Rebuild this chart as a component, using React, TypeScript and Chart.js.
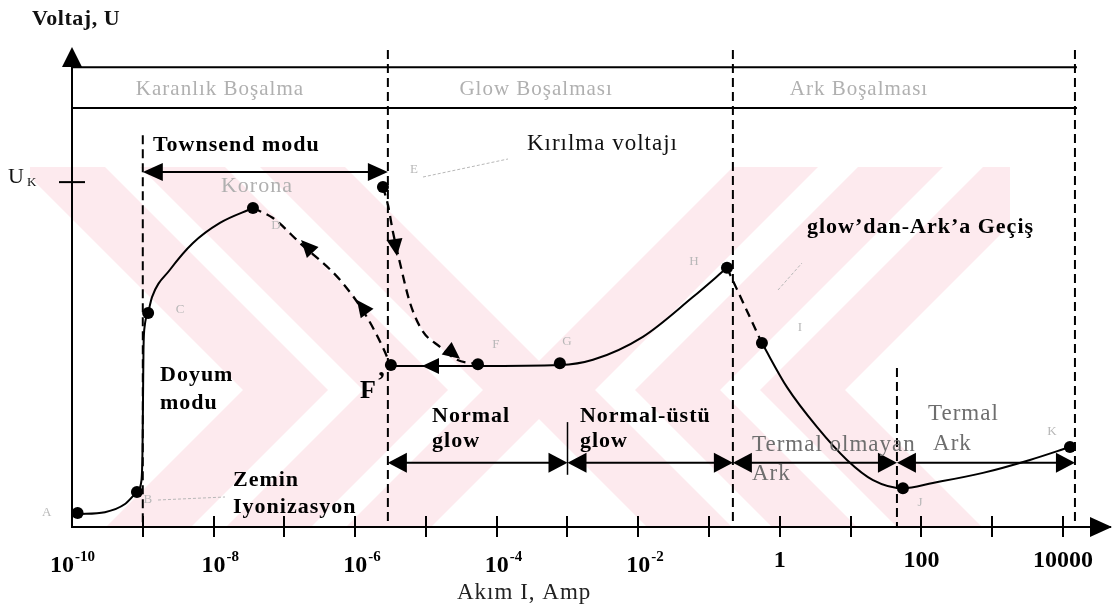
import { useEffect, useRef } from "react";
import { Chart, registerables } from "chart.js";

Chart.register(...registerables);

// ---------- values ----------
// current I in A (log axis), voltage U in arbitrary units (0..100)
const tickValues = [1e-10, 1e-9, 1e-8, 1e-7, 1e-6, 1e-5, 1e-4, 1e-3, 1e-2, 1e-1, 1, 10, 100, 1000, 10000];
const tickBase = ["10", "", "10", "", "10", "", "10", "", "10", "", "1", "", "100", "", "10000"];
const tickExp = ["-10", "", "-8", "", "-6", "", "-4", "", "-2", "", "", "", "", "", ""];

// A - B - C - D (dark discharge, solid)
const darkI = [1.2e-10, 2.92e-10, 5.61e-10, 8.27e-10, 9.59e-10, 9.91e-10, 1.007e-9, 1.023e-9, 1.07e-9, 1.19e-9, 1.35e-9, 2.42e-9, 5.12e-9, 1.23e-8, 3.6e-8];
const darkU = [2.7, 3.1, 4.8, 7.3, 9.8, 16.1, 26.5, 37.0, 42.2, 44.7, 48.0, 53.7, 59.3, 63.5, 66.6];

// D - F' (corona, dashed)
const coronaI = [3.6e-8, 6.9e-8, 1.66e-7, 6.1e-7, 1.47e-6, 2.55e-6, 3.2e-6];
const coronaU = [66.6, 64.5, 59.3, 51.6, 43.8, 37.0, 33.6];

// E - F (breakdown, dashed)
const breakdownI = [2.47e-6, 2.91e-6, 3.42e-6, 4.3e-6, 5.96e-6, 8.8e-6, 1.58e-5, 2.75e-5, 5.43e-5];
const breakdownU = [71.0, 67.2, 61.6, 55.1, 46.8, 41.1, 37.6, 34.9, 34.0];

// F' - F - G - H (glow, solid)
const glowI = [3.2e-6, 5.43e-5, 7.8e-4, 2.29e-3, 1.16e-2, 5.9e-2, 0.179];
const glowU = [33.6, 33.6, 33.8, 34.9, 39.7, 48.0, 54.1];

// H - I (glow-to-arc transition, dashed)
const transitionI = [0.179, 0.558];
const transitionU = [54.1, 38.4];

// I - J - K (arc, solid)
const arcI = [0.558, 1.26, 3.34, 8.87, 20.7, 54.8, 145, 740, 3410, 12530];
const arcU = [38.4, 29.2, 20.9, 14.0, 9.8, 8.1, 9.2, 11.3, 14.0, 16.7];

// marked points
const dotNames = ["A", "B", "C", "D", "E", "", "F", "G", "H", "I", "J", "K"];
const dotI = [1.2e-10, 8.27e-10, 1.19e-9, 3.6e-8, 2.47e-6, 3.2e-6, 5.43e-5, 7.8e-4, 0.179, 0.558, 54.8, 12530];
const dotU = [2.9, 7.3, 44.7, 66.6, 71.0, 33.8, 34.0, 34.2, 54.1, 38.4, 8.1, 16.7];

// direction arrows on the curves (tip and a point behind it)
const arrowTipI = [1.72e-7, 1.06e-6, 3.9e-6, 3.03e-5, 8.8e-6];
const arrowTipU = [59.9, 47.4, 56.6, 35.1, 33.6];
const arrowTailI = [2.8e-7, 1.73e-6, 3.31e-6, 1.58e-5, 1.74e-5];
const arrowTailU = [56.6, 43.2, 63.7, 38.4, 33.6];

// discharge regions (header band)
const regionEdges = [1e-10, 2.9e-6, 0.217, 14750];
const regionNames = ["Karanlık Boşalma", "Glow Boşalması", "Ark Boşalması"];
const regionLabelI = [1.23e-8, 3.6e-4, 13.1];

// operating modes (lower double arrows)
const modeEdges = [2.9e-6, 1e-3, 0.217, 45.1, 14750];
const townsendRange = [1e-9, 2.9e-6];
const thermalArcEdge = 45.1;
const U_K = 72;

const SERIF = '"Liberation Serif", "Times New Roman", serif';

type Note = { t: string; i: number; u: number; font: string; color: string; align?: CanvasTextAlign; sp?: string };
const notes: Note[] = [
  { t: "Townsend modu", i: 1.39e-9, u: 78.5, font: `bold 22px ${SERIF}`, color: "#000" },
  { t: "Kırılma voltajı", i: 2.67e-4, u: 78.7, font: `23px ${SERIF}`, color: "#111" },
  { t: "glow’dan-Ark’a Geçiş", i: 2.41, u: 61.4, font: `bold 22px ${SERIF}`, color: "#000" },
  { t: "Doyum", i: 1.75e-9, u: 30.5, font: `bold 22px ${SERIF}`, color: "#000" },
  { t: "modu", i: 1.75e-9, u: 24.6, font: `bold 22px ${SERIF}`, color: "#000" },
  { t: "Zemin", i: 1.88e-8, u: 8.6, font: `bold 22px ${SERIF}`, color: "#000" },
  { t: "Iyonizasyon", i: 1.88e-8, u: 2.9, font: `bold 22px ${SERIF}`, color: "#000" },
  { t: "Normal", i: 1.22e-5, u: 21.9, font: `bold 22px ${SERIF}`, color: "#000" },
  { t: "glow", i: 1.22e-5, u: 16.7, font: `bold 22px ${SERIF}`, color: "#000" },
  { t: "Normal-üstü", i: 1.5e-3, u: 21.9, font: `bold 22px ${SERIF}`, color: "#000" },
  { t: "glow", i: 1.5e-3, u: 16.7, font: `bold 22px ${SERIF}`, color: "#000" },
  { t: "Termal olmayan", i: 0.404, u: 15.9, font: `23px ${SERIF}`, color: "#6e6e6e" },
  { t: "Ark", i: 0.404, u: 9.8, font: `23px ${SERIF}`, color: "#6e6e6e" },
  { t: "Termal", i: 124, u: 22.3, font: `23px ${SERIF}`, color: "#6e6e6e" },
  { t: "Ark", i: 146, u: 16.1, font: `23px ${SERIF}`, color: "#6e6e6e" },
  { t: "Korona", i: 4.1e-8, u: 69.9, font: `22px ${SERIF}`, color: "#b0b0b0", align: "center" },
];

// offsets of the faint point letters from their dots (px)
const dotLabelDx = [-31, 11, 32, 23, 31, 0, 18, 7, -33, 38, 17, -18];
const dotLabelDy = [-1, 8, -3, 18, -17, 0, -20, -22, -6, -15, 14, -15];

const pts = (xs: number[], ys: number[]) => xs.map((v, k) => ({ x: v, y: ys[k] }));

function head(ctx: CanvasRenderingContext2D, tx: number, ty: number, fx: number, fy: number, len: number, hw: number) {
  const a = Math.atan2(ty - fy, tx - fx);
  const bx = tx - len * Math.cos(a);
  const by = ty - len * Math.sin(a);
  ctx.fillStyle = "#000";
  ctx.beginPath();
  ctx.moveTo(tx, ty);
  ctx.lineTo(bx + hw * Math.sin(a), by - hw * Math.cos(a));
  ctx.lineTo(bx - hw * Math.sin(a), by + hw * Math.cos(a));
  ctx.closePath();
  ctx.fill();
}

function text(ctx: CanvasRenderingContext2D, s: string, x: number, y: number, font: string, color: string, align: CanvasTextAlign = "left", sp = "1px") {
  ctx.font = font;
  ctx.fillStyle = color;
  ctx.textAlign = align;
  ctx.textBaseline = "alphabetic";
  (ctx as any).letterSpacing = sp;
  ctx.fillText(s, x, y);
}

const annotate = {
  id: "annotate",
  beforeDraw(chart: any) {
    const { ctx } = chart;
    ctx.save();
    ctx.fillStyle = "#fff";
    ctx.fillRect(0, 0, chart.width, chart.height);
    // faint watermark: two facing striped chevrons
    const top = 167, mid = 390, bot = 527, w = 85;
    const up = mid - top, down = bot - mid;
    ctx.beginPath();
    ctx.rect(30, top, 980, bot - top);
    ctx.clip();
    ctx.fillStyle = "#fdeaee";
    ctx.beginPath();
    for (const a of [20, 140, 260]) {
      ctx.moveTo(a, top); ctx.lineTo(a + w, top); ctx.lineTo(a + w + up, mid);
      ctx.lineTo(a + w + up - down, bot); ctx.lineTo(a + up - down, bot); ctx.lineTo(a + up, mid); ctx.closePath();
    }
    for (const b of [733, 858, 983]) {
      ctx.moveTo(b, top); ctx.lineTo(b + w, top); ctx.lineTo(b + w - up, mid);
      ctx.lineTo(b + w - up + down, bot); ctx.lineTo(b - up + down, bot); ctx.lineTo(b - up, mid); ctx.closePath();
    }
    ctx.fill("nonzero");
    ctx.restore();
  },
  afterDraw(chart: any) {
    const { ctx, chartArea: ca, scales } = chart;
    const X = scales.x, Y = scales.y;
    const px = (v: number) => X.getPixelForValue(v);
    const py = (v: number) => Y.getPixelForValue(v);
    ctx.save();
    ctx.strokeStyle = "#000";
    ctx.fillStyle = "#000";
    ctx.lineWidth = 2;

    // y axis with arrow
    ctx.beginPath();
    ctx.moveTo(ca.left, ca.bottom + 1);
    ctx.lineTo(ca.left, ca.top + 12);
    ctx.stroke();
    head(ctx, ca.left, ca.top - 1, ca.left, ca.top + 40, 20, 10);
    // x axis arrow
    head(ctx, ca.right + 2, ca.bottom, ca.right - 40, ca.bottom, 22, 10);
    // upper halves of x ticks
    ctx.beginPath();
    tickValues.slice(1).forEach((v) => {
      const x = Math.round(px(v));
      ctx.moveTo(x, ca.bottom);
      ctx.lineTo(x, ca.bottom - 11);
    });
    ctx.stroke();
    // x tick labels with real superscripts
    tickValues.forEach((v, k) => {
      if (!tickBase[k]) return;
      const x = px(v);
      const bf = `bold 24px ${SERIF}`, ef = `bold 15px ${SERIF}`;
      ctx.font = bf;
      (ctx as any).letterSpacing = "0px";
      const wb = ctx.measureText(tickBase[k]).width;
      if (tickExp[k]) {
        const start = x - wb / 2 - (k === 0 ? 10 : 0);
        text(ctx, tickBase[k], start, ca.bottom + 45, bf, "#000", "left", "0px");
        text(ctx, tickExp[k], start + wb + 1, ca.bottom + 34, ef, "#000", "left", "0px");
      } else {
        text(ctx, tickBase[k], x, ca.bottom + 40, bf, "#000", "center", "0px");
      }
    });

    // U_K tick and label
    ctx.beginPath();
    ctx.moveTo(ca.left - 13, py(U_K));
    ctx.lineTo(ca.left + 13, py(U_K));
    ctx.stroke();
    text(ctx, "U", 8, py(U_K) + 1, `22px ${SERIF}`, "#111", "left", "0px");
    text(ctx, "K", 27, py(U_K) + 4, `13px ${SERIF}`, "#111", "left", "0px");

    // header band
    const bandR = px(regionEdges[3]) + 2;
    ctx.beginPath();
    ctx.moveTo(ca.left, py(96)); ctx.lineTo(bandR, py(96));
    ctx.moveTo(ca.left, py(87.5)); ctx.lineTo(bandR, py(87.5));
    ctx.stroke();
    regionNames.forEach((n, k) => text(ctx, n, px(regionLabelI[k]), py(90.2), `21px ${SERIF}`, "#b0b0b0", "center", "1px"));

    // dashed separators
    ctx.strokeStyle = "#000";
    ctx.setLineDash([9, 5]);
    ctx.lineWidth = 2;
    ctx.beginPath();
    ctx.moveTo(px(townsendRange[0]), py(81.8)); ctx.lineTo(px(townsendRange[0]), ca.bottom);
    [regionEdges[1], regionEdges[2], regionEdges[3]].forEach((v) => {
      ctx.moveTo(px(v), py(99.6)); ctx.lineTo(px(v), ca.bottom);
    });
    ctx.moveTo(px(thermalArcEdge), py(33.2)); ctx.lineTo(px(thermalArcEdge), ca.bottom);
    ctx.stroke();
    ctx.setLineDash([]);

    // Townsend double arrow
    const ty = py(74.1);
    const t0 = px(townsendRange[0]), t1 = px(townsendRange[1]);
    ctx.beginPath(); ctx.moveTo(t0 + 10, ty); ctx.lineTo(t1 - 10, ty); ctx.stroke();
    head(ctx, t0, ty, t1, ty, 20, 9);
    head(ctx, t1, ty, t0, ty, 20, 9);

    // lower mode arrows
    const my = py(13.4);
    for (let k = 0; k < modeEdges.length - 1; k++) {
      const a = px(modeEdges[k]), b = px(modeEdges[k + 1]);
      ctx.beginPath(); ctx.moveTo(a + 10, my); ctx.lineTo(b - 10, my); ctx.stroke();
      head(ctx, a, my, b, my, 19, 10);
      head(ctx, b, my, a, my, 19, 10);
    }
    ctx.lineWidth = 1.5;
    ctx.beginPath(); ctx.moveTo(px(modeEdges[1]), py(21.9)); ctx.lineTo(px(modeEdges[1]), py(10.9)); ctx.stroke();

    // arrows on the curves
    arrowTipI.forEach((v, k) => head(ctx, px(v), py(arrowTipU[k]), px(arrowTailI[k]), py(arrowTailU[k]), 17, 8));

    // annotations
    notes.forEach((n) => text(ctx, n.t, px(n.i), py(n.u), n.font, n.color, n.align || "left", n.sp || "1px"));
    // F'
    const fx = px(dotI[5]), fy = py(dotU[5]);
    text(ctx, "F", fx - 31, fy + 33, `bold 26px ${SERIF}`, "#000", "left", "0px");
    text(ctx, "’", fx - 14, fy + 24, `bold 26px ${SERIF}`, "#000", "left", "0px");

    // faint point letters + leaders
    dotNames.forEach((n, k) => {
      if (!n) return;
      ctx.font = `13px ${SERIF}`;
      ctx.fillStyle = "#b8b8b8";
      ctx.textAlign = "center";
      ctx.textBaseline = "middle";
      (ctx as any).letterSpacing = "0px";
      ctx.fillText(n, px(dotI[k]) + dotLabelDx[k], py(dotU[k]) + dotLabelDy[k]);
    });
    ctx.strokeStyle = "#b8b8b8";
    ctx.lineWidth = 1;
    ctx.setLineDash([3, 2]);
    ctx.beginPath();
    ctx.moveTo(158, 500); ctx.lineTo(225, 497);
    ctx.moveTo(423, 177); ctx.lineTo(508, 159);
    ctx.moveTo(778, 290); ctx.lineTo(802, 263);
    ctx.stroke();
    ctx.setLineDash([]);

    // axis titles
    text(ctx, "Voltaj, U", 32, 25, `bold 22px ${SERIF}`, "#111", "left", "0.5px");
    text(ctx, "Akım I, Amp", 457, 599, `23px ${SERIF}`, "#222", "left", "1px");
    ctx.restore();
  },
};

export default function App() {
  const ref = useRef<HTMLCanvasElement>(null);
  useEffect(() => {
    const solid = { borderColor: "#000", borderWidth: 2, pointRadius: 0, cubicInterpolationMode: "monotone" as const, fill: false };
    const dashed = { ...solid, borderDash: [9, 6], borderWidth: 2.3 };
    const chart = new Chart(ref.current!, {
      type: "line",
      data: {
        datasets: [
          { ...solid, data: pts(darkI, darkU) },
          { ...dashed, data: pts(coronaI, coronaU) },
          { ...dashed, data: pts(breakdownI, breakdownU) },
          { ...solid, data: pts(glowI, glowU) },
          { ...dashed, data: pts(transitionI, transitionU) },
          { ...solid, data: pts(arcI, arcU) },
          { data: pts(dotI, dotU), showLine: false, pointRadius: 6, pointBackgroundColor: "#000", pointBorderWidth: 0, borderColor: "#000" },
        ] as any,
      },
      options: {
        responsive: false,
        animation: false,
        events: [],
        layout: { padding: { left: 72, right: 6, top: 48, bottom: 71 } },
        plugins: { legend: { display: false }, tooltip: { enabled: false } },
        scales: {
          x: {
            type: "logarithmic",
            min: 1e-10,
            max: 46130,
            bounds: "data",
            afterBuildTicks: (s: any) => {
              s.ticks = tickValues.map((v) => ({ value: v }));
            },
            ticks: { display: false, autoSkip: false, maxRotation: 0, minRotation: 0 },
            grid: {
              drawOnChartArea: false,
              tickLength: 10,
              lineWidth: 2,
              color: (c: any) => (c.index === 0 ? "rgba(0,0,0,0)" : "#000"),
            },
            border: { display: true, color: "#000", width: 2 },
          } as any,
          y: { type: "linear", min: 0, max: 100, display: false },
        },
      },
      plugins: [annotate],
    });
    return () => chart.destroy();
  }, []);
  return (
    <div style={{ position: "fixed", left: 0, top: 0, width: 1116, height: 608, background: "#fff" }}>
      <canvas ref={ref} width={1116} height={608} style={{ display: "block", width: 1116, height: 608 }} />
    </div>
  );
}
